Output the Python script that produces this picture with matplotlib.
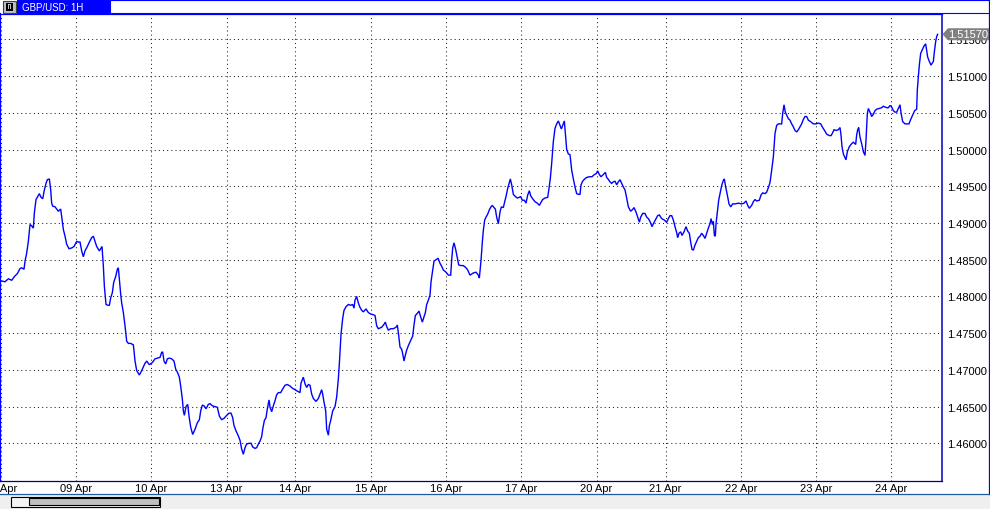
import matplotlib
matplotlib.use("Agg")
import matplotlib.pyplot as plt
from matplotlib.patches import Rectangle, Polygon
from matplotlib.lines import Line2D
from matplotlib.ticker import FormatStrFormatter
from matplotlib.transforms import IdentityTransform

plt.rcParams['font.family'] = ['Liberation Sans', 'DejaVu Sans']

# ---------------- data (hourly bar index from 08 Apr 00:00, price) ----------------
hours_a = [0.31,1.37,2.44,3.50,4.56,5.31,6.16,6.69,7.43,7.75,8.28,8.81,9.35,9.88,10.41,10.73,11.26,11.79,12.32,12.85,13.39,13.92,14.45,14.87,15.51,15.94,16.25,16.57,17.32,18.38,19.12,19.55,19.98,20.51,21.04,21.78,22.63,23.38,24.23,24.76,25.29,25.82,26.35,26.88,27.63,28.27,29.01,29.54,30.07,30.60,31.45,31.99,32.30,32.73,33.05,33.58,34.11,34.64,35.07,35.60,36.02,36.66,37.19,37.51,37.83,38.26,38.58,39.11,39.64,40.17,40.70,41.45,42.30,42.83,43.36,44.21,44.95,46.02,46.55,47.40,48.35,49.20,50.05,50.80,51.33,51.65,52.08,52.61,53.14,53.78,54.52,55.26,55.80,56.43,56.96,57.39,57.92,58.24,58.56,59.09,59.62,60.05,60.58,61.22,61.96,62.70,63.34,63.77,64.30,64.83,65.47,66.21,66.74,67.49,68.34,69.08,69.72,70.46,71.21,72.06,72.80,73.44,73.97,74.40,75.03,75.78,76.31]
prices_a = [1.4821,1.4820,1.4824,1.4822,1.4828,1.4831,1.4838,1.4839,1.4837,1.4848,1.4859,1.4875,1.4898,1.4896,1.4893,1.4914,1.4932,1.4936,1.4940,1.4935,1.4933,1.4945,1.4954,1.4959,1.4960,1.4945,1.4927,1.4923,1.4922,1.4916,1.4919,1.4905,1.4891,1.4882,1.4871,1.4865,1.4866,1.4868,1.4875,1.4874,1.4874,1.4862,1.4854,1.4862,1.4868,1.4874,1.4880,1.4882,1.4875,1.4868,1.4862,1.4866,1.4868,1.4841,1.4814,1.4789,1.4788,1.4788,1.4798,1.4805,1.4819,1.4827,1.4837,1.4839,1.4823,1.4803,1.4791,1.4778,1.4760,1.4739,1.4736,1.4736,1.4734,1.4712,1.4699,1.4693,1.4699,1.4709,1.4712,1.4707,1.4710,1.4715,1.4716,1.4717,1.4724,1.4724,1.4712,1.4708,1.4715,1.4716,1.4715,1.4712,1.4701,1.4696,1.4690,1.4678,1.4660,1.4644,1.4638,1.4650,1.4653,1.4637,1.4622,1.4612,1.4619,1.4628,1.4632,1.4644,1.4652,1.4651,1.4647,1.4653,1.4654,1.4651,1.4650,1.4649,1.4637,1.4632,1.4634,1.4638,1.4641,1.4641,1.4635,1.4624,1.4617,1.4610,1.4604]

hours_b = [76.84,77.37,77.90,78.44,79.29,79.82,80.35,81.09,81.62,82.16,82.69,83.22,83.54,84.07,84.60,85.03,85.56,85.88,86.41,86.94,87.47,88.00,88.53,89.28,89.92,90.66,91.40,92.25,93.00,93.85,94.59,95.44,95.76,96.50,97.04,97.57,98.10,98.63,99.16,99.69,100.54,101.29,101.82,102.35,102.67,103.10,103.63,103.95,104.48,104.80,105.22,105.86,106.60,107.13,107.67,107.98,108.52,109.05,109.47,110.11,110.85,111.60,112.24,112.66,112.98,113.51,114.04,114.58,115.11,115.64,116.49,117.23,117.98,118.83,119.36,119.89,120.42,121.48,122.23,122.65,123.08,123.61,124.35,125.20,126.05,126.48,126.90,127.33,127.86,128.18,128.61,129.03,129.46,129.99,130.52,131.37,131.79,132.22,132.86,133.39,133.92,134.45,134.98,135.41,135.83,136.37,136.90,137.22,137.75,138.17,138.81,139.45,140.09,140.62,141.15,142.00,142.74,143.49,143.81,144.13,144.55,145.08,145.61,146.04,146.68,147.53,148.38,148.91,149.65,150.72,151.56,152.31,152.63,152.84]
prices_b = [1.4592,1.4585,1.4594,1.4599,1.4600,1.4600,1.4595,1.4593,1.4594,1.4599,1.4603,1.4609,1.4619,1.4631,1.4635,1.4647,1.4659,1.4649,1.4643,1.4651,1.4658,1.4666,1.4669,1.4669,1.4674,1.4679,1.4680,1.4678,1.4675,1.4673,1.4671,1.4669,1.4682,1.4690,1.4681,1.4676,1.4680,1.4679,1.4667,1.4661,1.4657,1.4661,1.4667,1.4673,1.4667,1.4656,1.4644,1.4619,1.4611,1.4624,1.4631,1.4644,1.4650,1.4663,1.4688,1.4708,1.4749,1.4770,1.4781,1.4786,1.4789,1.4788,1.4789,1.4784,1.4795,1.4800,1.4791,1.4785,1.4781,1.4779,1.4783,1.4778,1.4776,1.4775,1.4774,1.4760,1.4756,1.4758,1.4762,1.4765,1.4759,1.4754,1.4756,1.4756,1.4758,1.4761,1.4747,1.4731,1.4728,1.4722,1.4712,1.4720,1.4727,1.4733,1.4738,1.4746,1.4761,1.4774,1.4777,1.4780,1.4772,1.4765,1.4772,1.4778,1.4789,1.4795,1.4802,1.4820,1.4836,1.4848,1.4850,1.4852,1.4845,1.4841,1.4836,1.4833,1.4829,1.4829,1.4850,1.4866,1.4873,1.4864,1.4852,1.4843,1.4842,1.4842,1.4839,1.4836,1.4829,1.4832,1.4833,1.4829,1.4825,1.4834]

hours_c = [153.16,153.58,153.90,154.33,154.75,155.28,155.82,156.35,156.77,157.30,157.73,158.15,158.69,159.22,159.64,160.28,160.71,161.13,161.66,162.19,162.51,162.94,163.47,164.11,164.74,165.38,165.81,166.34,166.98,167.51,168.04,168.57,169.00,169.63,170.38,171.12,171.76,172.29,172.82,173.57,174.42,174.84,175.27,175.69,176.22,176.76,177.29,177.82,178.35,178.78,179.31,179.73,180.05,180.48,181.01,181.54,182.07,182.60,183.24,183.66,184.20,184.73,185.05,185.58,186.22,186.85,187.70,188.55,189.30,189.83,190.36,190.89,191.42,192.17,192.81,193.23,193.66,194.29,194.83,195.36,195.89,196.42,196.95,197.48,198.01,198.55,199.08,199.61,200.14,200.88,201.42,201.95,202.58,203.33,203.65,204.07,204.71,205.45,205.99,206.52,207.05,207.69,208.11,208.75,209.49,210.03,210.77,211.62,212.36,212.90,213.43,213.96,214.49,215.02,215.55,215.87,216.30,216.83,217.25,217.89,218.53,219.06,219.59,220.02,220.44,220.87,221.40,221.93,222.46,222.99,223.52,224.06,224.59,225.12,225.65,226.18,226.50,226.93,227.25,227.57,227.88,228.10,228.52,228.95,229.37]
prices_c = [1.4849,1.4874,1.4890,1.4904,1.4908,1.4912,1.4918,1.4922,1.4924,1.4921,1.4919,1.4908,1.4899,1.4915,1.4922,1.4921,1.4929,1.4936,1.4947,1.4955,1.4960,1.4952,1.4939,1.4936,1.4934,1.4935,1.4936,1.4931,1.4931,1.4927,1.4938,1.4944,1.4937,1.4933,1.4929,1.4927,1.4924,1.4928,1.4932,1.4934,1.4935,1.4947,1.4961,1.4981,1.5011,1.5029,1.5035,1.5039,1.5033,1.5028,1.5034,1.5039,1.5023,1.5000,1.4994,1.4993,1.4972,1.4960,1.4947,1.4940,1.4939,1.4939,1.4952,1.4957,1.4960,1.4962,1.4963,1.4963,1.4966,1.4967,1.4971,1.4966,1.4963,1.4966,1.4969,1.4962,1.4960,1.4956,1.4954,1.4956,1.4957,1.4952,1.4956,1.4959,1.4954,1.4949,1.4945,1.4934,1.4922,1.4916,1.4918,1.4921,1.4915,1.4905,1.4901,1.4908,1.4913,1.4913,1.4908,1.4906,1.4902,1.4895,1.4899,1.4904,1.4910,1.4911,1.4906,1.4904,1.4901,1.4906,1.4910,1.4910,1.4904,1.4895,1.4887,1.4880,1.4886,1.4888,1.4883,1.4888,1.4895,1.4889,1.4886,1.4874,1.4864,1.4863,1.4870,1.4875,1.4880,1.4882,1.4886,1.4883,1.4879,1.4886,1.4893,1.4899,1.4906,1.4898,1.4902,1.4883,1.4882,1.4899,1.4915,1.4931,1.4940]

hours_d = [229.90,230.43,230.75,231.18,231.71,232.24,232.77,233.41,234.15,235.22,236.28,237.02,237.66,238.19,238.72,239.47,240.00,240.53,241.06,241.91,242.44,242.98,243.72,244.25,244.78,245.31,245.85,246.38,246.91,247.44,247.97,249.03,249.35,249.78,250.20,250.63,251.16,251.69,252.22,252.75,253.29,253.82,254.35,254.88,255.41,255.94,256.47,257.01,257.54,258.28,259.13,259.98,260.73,261.47,262.11,262.85,263.38,264.23,264.77,265.19,265.72,266.36,267.10,267.64,267.95,268.27,268.70,269.23,269.55,269.97,270.61,271.36,271.89,272.63,272.95,273.27,273.59,274.01,274.54,275.08,275.61,275.93,276.35,276.67,277.20,277.73,278.26,278.80,279.33,280.18,280.92,281.45,281.98,282.52,283.05,283.58,284.11,284.64,285.17,285.71,286.24,286.77,287.09,287.62,288.36,289.11,289.64,290.17,290.81,291.45,292.08,292.29,292.61,292.93,293.36,293.89,294.42,294.95,295.27,295.59,296.12,296.65,297.40,297.72,298.14,298.46,298.78]
prices_d = [1.4951,1.4958,1.4960,1.4949,1.4938,1.4926,1.4922,1.4926,1.4926,1.4927,1.4926,1.4927,1.4930,1.4924,1.4920,1.4924,1.4929,1.4932,1.4930,1.4931,1.4938,1.4941,1.4940,1.4942,1.4948,1.4955,1.4972,1.4990,1.5022,1.5033,1.5035,1.5035,1.5049,1.5061,1.5051,1.5047,1.5042,1.5040,1.5035,1.5031,1.5026,1.5024,1.5027,1.5031,1.5035,1.5041,1.5045,1.5045,1.5040,1.5038,1.5035,1.5035,1.5036,1.5035,1.5030,1.5025,1.5021,1.5019,1.5019,1.5022,1.5027,1.5026,1.5027,1.5030,1.5020,1.5004,1.4994,1.4989,1.4986,1.4997,1.5004,1.5008,1.5010,1.5007,1.5020,1.5027,1.5030,1.5017,1.5008,1.4997,1.4992,1.5013,1.5049,1.5056,1.5051,1.5045,1.5048,1.5053,1.5055,1.5056,1.5057,1.5059,1.5058,1.5057,1.5057,1.5060,1.5058,1.5053,1.5051,1.5051,1.5056,1.5061,1.5050,1.5038,1.5035,1.5035,1.5035,1.5041,1.5047,1.5053,1.5055,1.5081,1.5099,1.5115,1.5131,1.5136,1.5141,1.5144,1.5135,1.5126,1.5120,1.5115,1.5120,1.5133,1.5147,1.5154,1.5157]

day_ticks = [0, 24, 48, 72, 94, 118, 142, 166, 190, 212, 236, 260, 284]
day_labels = ["08 Apr", "09 Apr", "10 Apr", "13 Apr", "14 Apr", "15 Apr", "16 Apr",
              "17 Apr", "20 Apr", "21 Apr", "22 Apr", "23 Apr", "24 Apr"]
price_ticks = [1.460, 1.465, 1.470, 1.475, 1.480, 1.485, 1.490, 1.495,
               1.500, 1.505, 1.510, 1.515]
title_text = "GBP/USD: 1H"

segs = [(hours_a, prices_a), (hours_b, prices_b), (hours_c, prices_c), (hours_d, prices_d)]
for i, (h, p) in enumerate(segs):
    assert len(h) == len(p), (i, len(h), len(p))
hours = hours_a + hours_b + hours_c + hours_d
prices = prices_a + prices_b + prices_c + prices_d

# ---------------- figure ----------------
W, H = 990, 510
fig = plt.figure(figsize=(W / 100, H / 100), dpi=100)
fig.patch.set_facecolor("white")

def fx(px):
    return px / W

def fy(py):
    return 1 - py / H

def rect(x0, y0, x1, y1, **kw):
    fig.add_artist(Rectangle((fx(x0), fy(y1)), fx(x1) - fx(x0), fy(y0) - fy(y1),
                             transform=fig.transFigure, **kw))

def hline(x0, x1, y, **kw):
    fig.add_artist(Line2D([fx(x0), fx(x1)], [fy(y), fy(y)], transform=fig.transFigure, **kw))

def vline(x, y0, y1, **kw):
    fig.add_artist(Line2D([fx(x), fx(x)], [fy(y0), fy(y1)], transform=fig.transFigure, **kw))

AX_L, AX_R, AX_T, AX_B = 0.4, 942.0, 14.8, 481.5
ax = fig.add_axes([fx(AX_L), fy(AX_B), fx(AX_R) - fx(AX_L), fy(AX_T) - fy(AX_B)])
ax.set_facecolor("white")
ax.plot(hours, prices, color="#0000FF", lw=1.0, solid_joinstyle="miter", zorder=3)

ax.set_xlim(-0.1, 300.16)
ax.set_ylim(1.45493, 1.51849)
ax.set_xticks(day_ticks)
ax.set_xticklabels(day_labels)
ax.set_yticks(price_ticks)
ax.yaxis.set_major_formatter(FormatStrFormatter("%.5f"))
ax.yaxis.tick_right()
ax.tick_params(axis="x", length=0, pad=1.8, labelsize=8, colors="black")
ax.tick_params(axis="y", length=0, pad=4.0, labelsize=8, colors="black")
ax.grid(True, color="#202020", linestyle=(0, (1, 3)), linewidth=0.75)
ax.set_axisbelow(True)

ax.spines["left"].set_color("#0000FF")
ax.spines["left"].set_linewidth(1.6)
ax.spines["top"].set_color("#0000FF")
ax.spines["top"].set_linewidth(0.9)
ax.spines["right"].set_color("#0000C0")
ax.spines["right"].set_linewidth(1.1)
ax.spines["bottom"].set_color("#000080")
ax.spines["bottom"].set_linewidth(0.9)

# ---------------- last price tag ----------------
last = prices[-1]
fig.canvas.draw()
ypix = ax.transData.transform((0, last))[1]
tag = Polygon([(943, ypix), (948, ypix + 5.6), (989, ypix + 5.6), (989, ypix - 5.6), (948, ypix - 5.6)],
              closed=True, transform=IdentityTransform(), facecolor="#808080", edgecolor="#808080", lw=0.5)
fig.add_artist(tag)
fig.text(968.5 / W, ypix / H, "%.5f" % last, color="white", fontsize=8, ha="center", va="center")

# ---------------- window chrome ----------------
# top title strip
rect(110, 0.5, 989.5, 14.3, facecolor="white", edgecolor="#0000FF", lw=0.8)
rect(17, 0, 110, 14.5, facecolor="#0000FF", edgecolor="none")
fig.text(fx(22), fy(7.6), title_text, color="white", fontsize=7, ha="left", va="center")
# small icon button
rect(2.5, 1.5, 15.5, 13.5, facecolor="#C0C0C0", edgecolor="#404040", lw=0.8)
rect(5.5, 3.5, 12.5, 11.5, facecolor="#000000", edgecolor="none")
rect(7.5, 5.0, 10.5, 10.0, facecolor="#C0C0C0", edgecolor="none")
rect(8.5, 5.5, 9.5, 9.5, facecolor="#000000", edgecolor="none")

# outer right border and bottom separator
vline(989.3, 0, 495, color="#0000FF", lw=0.9)
hline(0, 990, 495.3, color="#1F5AA6", lw=0.9)

# bottom grey area with scrollbar
rect(0, 496, 990, 510, facecolor="#EFEFEF", edgecolor="none")
rect(10.5, 497.5, 160.5, 507.5, facecolor="#F4F4F4", edgecolor="#000000", lw=0.8)
rect(28.5, 499.5, 158.5, 505.5, facecolor="#C0C0C0", edgecolor="#000000", lw=0.8)

fig.savefig("out.png", dpi=100)
